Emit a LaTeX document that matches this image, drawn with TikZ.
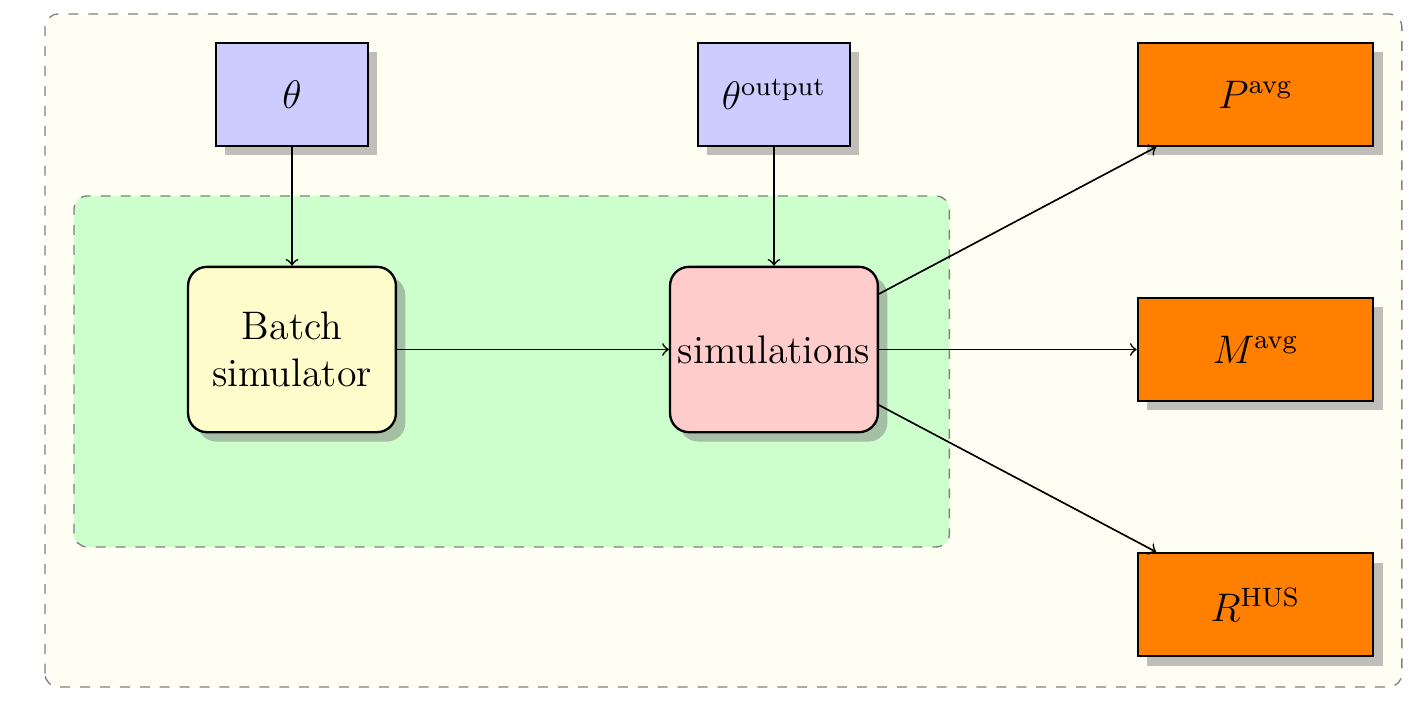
\documentclass[tikz,border=0pt]{standalone}
\usepackage{amsmath}
\usepackage{amssymb}
\usetikzlibrary{shadows}

\begin{document}
\begin{tikzpicture}[
		param/.style={draw,line width=0.7pt,fill=blue!20,minimum width=1.61cm,minimum height=1.09cm,font=\large,drop shadow={shadow xshift=0.1cm,shadow yshift=-0.1cm}},
		block/.style={draw,line width=0.7pt,rounded corners=2mm,inner xsep=1pt,minimum width=2.2cm,minimum height=1.75cm,align=center,font=\large,drop shadow={shadow xshift=0.1cm,shadow yshift=-0.1cm}},
		result/.style={draw,line width=0.7pt,fill=orange,minimum width=2.49cm,minimum height=1.09cm,font=\large,drop shadow={shadow xshift=0.1cm,shadow yshift=-0.1cm}},
		frame/.style={dashed,draw=black!50,rounded corners},
		flow/.style={->,line width=0.5pt}
	]
		\useasboundingbox (0,0) rectangle (15,7.42);
		% Draw background frames.
		\draw[frame,fill=yellow!5] (0.476,0.148) rectangle (14.84,7.272);
		\draw[frame,fill=green!20] (0.783,1.63) rectangle (10.05,5.345);
		
		% Draw inputs and simulator.
		\node[param] (theta) at (3.091,6.42) {$\theta$};
		\node[param] (thetaout) at (8.193,6.42) {$\theta^{\text{output}}$};
		\node[block,fill=yellow!20] (batch) at (3.091,3.72) {Batch\\simulator};
		\node[block,fill=red!20] (sims) at (8.193,3.72) {simulations};
		
		% Draw outputs.
		\node[result] (pavg) at (13.29,6.42) {$P^{\text{avg}}$};
		\node[result] (mavg) at (13.29,3.72) {$M^{\text{avg}}$};
		\node[result] (rhus) at (13.29,1.02) {$R^{\text{HUS}}$};
		
		\draw[flow] (theta) -- (batch);
		\draw[flow] (thetaout) -- (sims);
		\draw[flow] (batch) -- (sims);
		\draw[flow] (sims) -- (pavg);
		\draw[flow] (sims) -- (mavg);
		\draw[flow] (sims) -- (rhus);
	\end{tikzpicture}
\end{document}
